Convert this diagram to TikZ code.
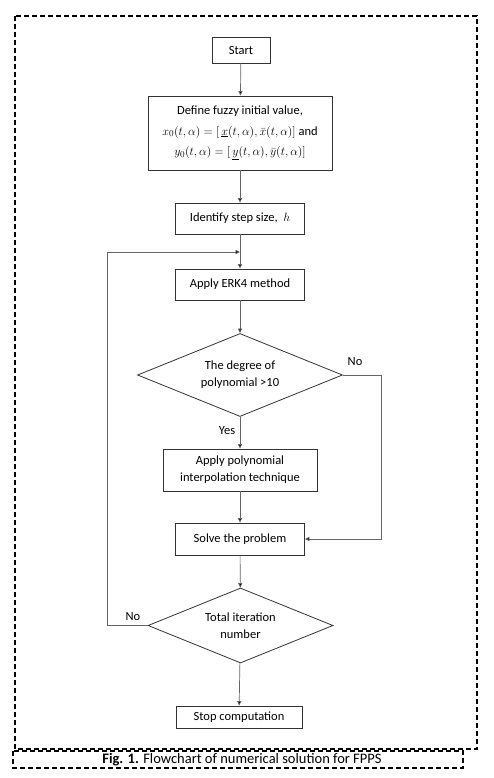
\documentclass[tikz,border=0pt]{standalone}
\usepackage{fontspec}
\setmainfont{Carlito}
\usetikzlibrary{shapes.geometric,arrows.meta}
\begin{document}
\begin{tikzpicture}[x=1pt,y=-1pt,
  box/.style={draw=black!80,line width=0.8pt,inner sep=0pt,align=center,font=\fontsize{12.5}{17}\selectfont},
  dia/.style={draw=black!80,line width=0.8pt,diamond,inner sep=0pt,align=center,font=\fontsize{12.5}{17}\selectfont},
  conn/.style={draw=black!60,line width=0.7pt,-{Triangle[length=4.5pt,width=4pt,fill=black]}},
  lab/.style={font=\fontsize{12.5}{14}\selectfont},
  frame/.style={draw=black,line width=1.2pt,dash pattern=on 5pt off 3pt}]
\useasboundingbox (0,0) rectangle (494,778);
\draw[frame] (15,16) rectangle (477,749);
\draw[frame] (13,751) rectangle (463,768);
\node[font=\fontsize{14.5}{15}\selectfont] (cap) at (242,759.5) {\textbf{Fig. 1.} Flowchart of numerical solution for FPPS};

\node[box,minimum width=58,minimum height=26] (start) at (241,50) {Start};
\node[box,minimum width=184,minimum height=74,font=\fontsize{12.5}{20.5}\selectfont] (def) at (240,133)
  {Define fuzzy initial value,\\
   $x_0(t,\alpha)=\bigl[\,\underline{x}(t,\alpha),\bar{x}(t,\alpha)\bigr]$ and\\
   $y_0(t,\alpha)=\bigl[\,\underline{y}(t,\alpha),\bar{y}(t,\alpha)\bigr]$};
\node[box,minimum width=129,minimum height=31] (step) at (240,218.5) {Identify step size, \ $h$};
\node[box,minimum width=129,minimum height=31] (erk) at (240,284.5) {Apply ERK4 method};
\node[dia,minimum width=205,minimum height=83,aspect=2.47] (d1) at (240,375) {The degree of\\polynomial >10};
\node[box,minimum width=154,minimum height=42] (poly) at (240,470) {Apply polynomial\\interpolation technique};
\node[box,minimum width=129,minimum height=32] (solve) at (240,539) {Solve the problem};
\node[dia,minimum width=185,minimum height=75,aspect=2.47] (d2) at (240.5,625.5) {Total iteration\\number};
\node[box,minimum width=126,minimum height=22] (stop) at (239,717) {Stop computation};

\node[lab] (no1) at (355,362) {No};
\node[lab] (yes) at (227,431) {Yes};
\node[lab] (no2) at (133,617) {No};

\coordinate (rc) at (381,375);
\coordinate (lc) at (107,625.5);
\coordinate (j) at (240,252);

\draw[conn] (start) -- (def);
\draw[conn] (def) -- (step);
\draw[conn] (step) -- (erk);
\draw[conn] (erk) -- (d1);
\draw[conn] (d1) -- (poly);
\draw[conn] (poly) -- (solve);
\draw[conn] (solve) -- (d2);
\draw[conn] (d2) -- (stop);
\draw[conn] (d1.east) -- (rc) |- (solve.east);
\draw[conn] (d2.west) -- (lc) |- (j);
\end{tikzpicture}
\end{document}
